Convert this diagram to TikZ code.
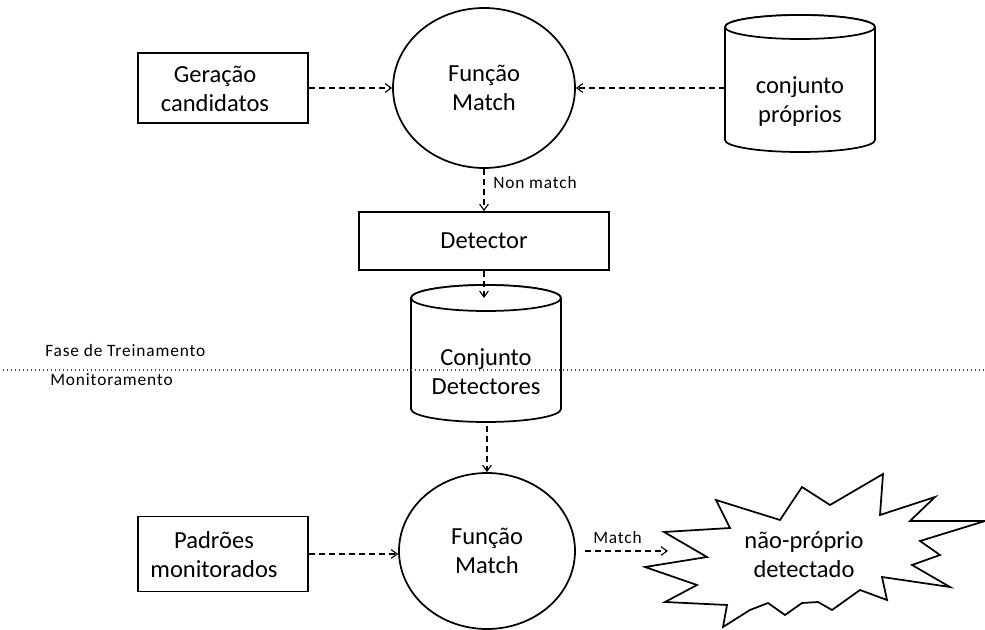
\documentclass[tikz,border=0pt]{standalone}
\usepackage{fontspec}
\setmainfont{Carlito}
\newfontfamily\spacedfam[LetterSpace=5]{Carlito}
\usetikzlibrary{arrows.meta,shapes.geometric}
\newcommand\bigtxt{\fontsize{18.4pt}{21.75pt}\selectfont}
\newcommand\smalltxt{\spacedfam\fontsize{13pt}{15pt}\selectfont}
\begin{document}
\begin{tikzpicture}[x=0.75pt,y=-0.75pt,
  outline/.style={draw=black,line width=1.3pt,fill=white},
  boxnode/.style={outline,rectangle,inner sep=0pt,align=center,font=\bigtxt},
  matchnode/.style={outline,ellipse,inner sep=0pt,align=center,font=\bigtxt},
  label text/.style={font=\bigtxt,align=center,inner sep=0pt},
  small text/.style={font=\smalltxt,inner sep=0pt},
  flow/.style={draw=black,line width=0.85pt,dash pattern=on 4.5pt off 3pt,
    -{Straight Barb[length=4.5pt,width=6.5pt,line width=0.85pt]}},
  separator/.style={draw=black!70,line width=1pt,dash pattern=on 1pt off 2pt}]
\useasboundingbox (0,0) rectangle (985,630);

% ---------- training phase ----------
\node[boxnode,minimum width=127.5pt,minimum height=53pt] (gera) at (223,88) {};
\node[label text] (geraText) at (215,89) {Geração\\candidatos};
\node[matchnode,minimum width=136.5pt,minimum height=120pt] (fm1) at (484,88) {Função\\Match};

% self set (cylinder)
\draw[outline] (725,27) -- (725,140)
  arc[start angle=180,end angle=0,x radius=75,y radius=12] -- (875,27)
  arc[start angle=0,end angle=-180,x radius=75,y radius=12] -- cycle;
\draw[outline] (800,27) circle[x radius=75,y radius=12];
\node[label text] (propr) at (800,102) {conjunto\\próprios};
\coordinate (propL) at (725,88);

\node[boxnode,minimum width=187.5pt,minimum height=43.5pt] (det) at (484,241) {Detector};

% detector set (cylinder)
\draw[outline] (411,298) -- (411,409)
  arc[start angle=180,end angle=0,x radius=75,y radius=13] -- (561,298)
  arc[start angle=0,end angle=-180,x radius=75,y radius=13] -- cycle;
\draw[outline] (486,298) circle[x radius=75,y radius=13];
\node[label text] (cdet) at (486,372) {Conjunto\\Detectores};
\coordinate (cdetTop) at (484,298);
\coordinate (cdetBot) at (487,426);

% ---------- monitoring phase ----------
\node[boxnode,minimum width=127.5pt,minimum height=56.25pt] (pad) at (223,554) {};
\node[label text] (padText) at (214,555) {Padrões\\monitorados};
\node[matchnode,minimum width=132pt,minimum height=117pt] (fm2) at (487,551) {Função\\Match};

% non-self detected (burst)
\draw[outline,line join=miter] (664,532) -- (730,528) -- (716,500) -- (780,520) -- (802,487)
  -- (830,505) -- (883,474) -- (880,515) -- (935,497) -- (910,521) -- (985,521)
  -- (920,541) -- (940,555) -- (912,565) -- (950,587) -- (882,577) -- (887,600)
  -- (860,590) -- (832,610) -- (818,602) -- (802,603) -- (785,615) -- (768,603)
  -- (750,610) -- (723,627) -- (727,605) -- (665,602) -- (697,585) -- (645,567)
  -- (707,557) -- cycle;
\node[label text] (nonself) at (804,555) {não-próprio\\detectado};
\coordinate (starL) at (668,551);

% ---------- connectors ----------
\draw[flow] (gera.east) -- (fm1.west);
\draw[flow] (propL) -- (fm1.east);
\draw[flow] (fm1.south) -- (det.north);
\node[small text,anchor=base west] (nonmatch) at (493,189) {Non match};
\draw[flow] (det.south) -- (cdetTop);
\draw[flow] (cdetBot) -- (fm2.north);
\draw[flow] (pad.east) -- (pad.east -| fm2.west);
\draw[flow] ([xshift=6.75pt]fm2.east) -- (starL);
\node[small text,anchor=base west] (matchlbl) at (593,543) {Match};

% phase separator
\draw[separator] (3,370) -- (985,370);
\node[small text,anchor=base west] (fase) at (45,357) {Fase de Treinamento};
\node[small text,anchor=base west] (mon) at (50,386) {Monitoramento};
\end{tikzpicture}
\end{document}
